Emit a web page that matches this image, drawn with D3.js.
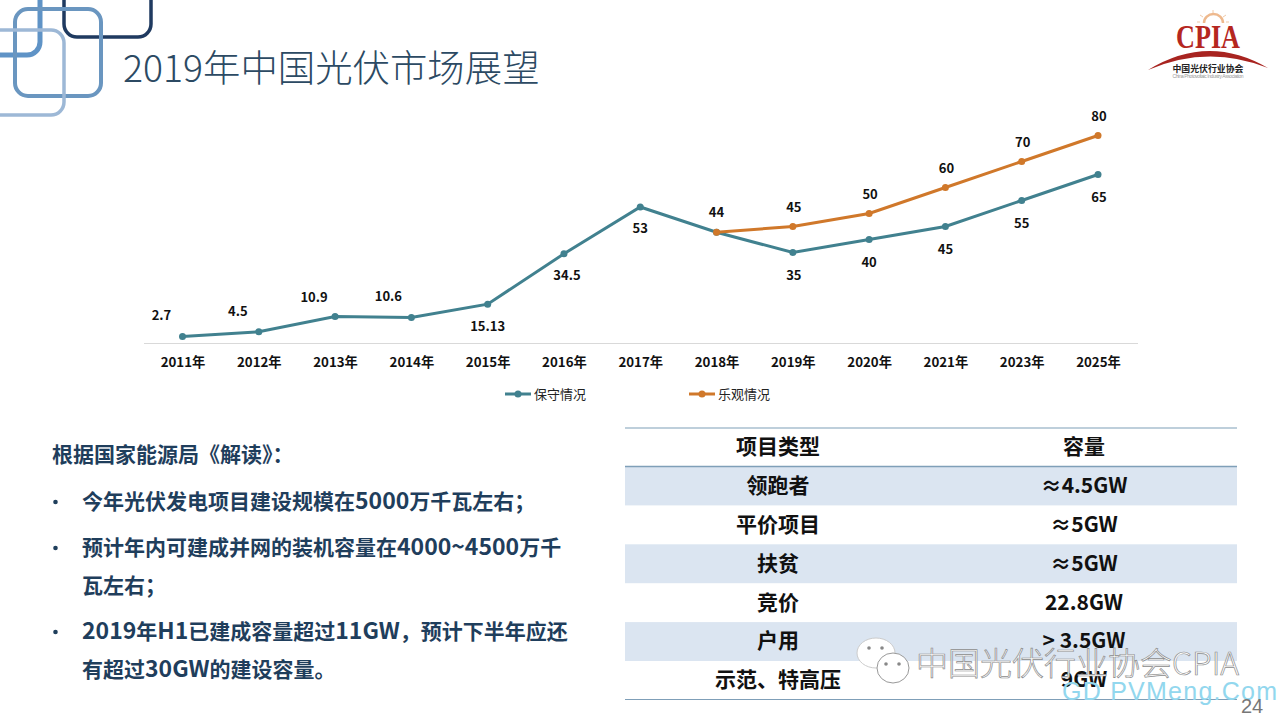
<!DOCTYPE html>
<html><head><meta charset="utf-8">
<style>html,body{margin:0;padding:0;background:#fff}svg{display:block}text{font-family:"Noto Sans CJK SC","Open Sans",sans-serif}</style>
<script src="https://cdn.jsdelivr.net/npm/d3@7"></script></head>
<body><svg id="c" width="1280" height="720"></svg>
<script>
const years=["2011年","2012年","2013年","2014年","2015年","2016年","2017年","2018年","2019年","2020年","2021年","2023年","2025年"];
const conservative=[2.7,4.5,10.4,10,15.13,34.5,52.5,42.8,35,40,45,55,65];
const conservativeLabels=["2.7","4.5","10.9","10.6","15.13","34.5","53","44","35","40","45","55","65"];
const optimistic=[null,null,null,null,null,null,null,42.8,45,50,60,70,80];
const optimisticLabels=["","","","","","","","","45","50","60","70","80"];
const seriesNames=["保守情况","乐观情况"];
const tableHead=["项目类型","容量"];
const tableTypes=["领跑者","平价项目","扶贫","竞价","户用","示范、特高压"];
const tableCaps=["≈4.5GW","≈5GW","≈5GW","22.8GW","> 3.5GW","9GW"];
const intro="根据国家能源局《解读》：";
const bullets=[["今年光伏发电项目建设规模在5000万千瓦左右；"],["预计年内可建成并网的装机容量在4000~4500万千","瓦左右；"],["2019年H1已建成容量超过11GW，预计下半年应还","有超过30GW的建设容量。"]];

const svg=d3.select("#c");
const TEAL="#41818f",OR="#d0782a",NAVY="#1f3e5c";
// decorative squares
[[-40,-60,80,115,"#5f93c6",5],[64,-50,87,87,"#1f3a60",3.5],[15,9,86,87,"#6a96c0",4],[-30,30,94,85,"#9db8d6",3.5]].forEach(r=>
 svg.append("rect").attr("x",r[0]).attr("y",r[1]).attr("width",r[2]).attr("height",r[3]).attr("rx",13).attr("fill","none").attr("stroke",r[4]).attr("stroke-width",r[5]));
svg.append("text").attr("x",123).attr("y",82).attr("font-size",37.4).attr("fill","#2c4a63").style("font-weight",300).text("2019年中国光伏市场展望");

// logo
const logo=svg.append("g");
logo.append("path").attr("d","M1204 23 a9.5 9 0 0 1 19 0").attr("fill","none").attr("stroke","#eeb98e").attr("stroke-width",2.5);
logo.append("path").attr("d","M1213 10V13 M1200 15L1203 17 M1226 15L1223 17 M1197 22H1200 M1226 22H1229").attr("stroke","#f0c9a8").attr("stroke-width",1);
logo.append("text").attr("x",1176).attr("y",48).attr("font-size",34).attr("fill","#b5271f").style("font-weight",700).style("font-family","'Liberation Serif'").attr("textLength",64).attr("lengthAdjust","spacingAndGlyphs").text("CPIA");
logo.append("path").attr("d","M1148 70 Q1208 33 1268 68 Q1208 44 1148 70Z").attr("fill","#a82420");
logo.append("text").attr("x",1208).attr("y",71.5).attr("text-anchor","middle").attr("font-size",8.9).attr("fill","#222").style("font-weight",700).text("中国光伏行业协会");
logo.append("text").attr("x",1208).attr("y",78).attr("text-anchor","middle").attr("font-size",5).attr("fill","#999").style("font-family","'Liberation Sans'").attr("textLength",71).text("China Photovoltaic Industry Association");

// chart
const x=d3.scalePoint().domain(years).range([182.5,1098]);
const y=d3.scaleLinear().domain([0,80]).range([343.5,135.5]);
const line=d3.line().defined(d=>d.v!=null).x(d=>x(d.c)).y(d=>y(d.v));
const g=svg.append("g");
const axis=d3.axisBottom(x).tickSize(0).tickPadding(14);
const ax=g.append("g").attr("transform","translate(0,344)").call(axis);
ax.select(".domain").remove();
g.append("line").attr("x1",144).attr("x2",1138).attr("y1",343.5).attr("y2",343.5).attr("stroke","#d9d9d9").attr("stroke-width",1);
ax.selectAll("text").attr("font-size",13.3).attr("fill","#111").style("font-weight",700).style("font-family","'Noto Sans CJK SC'");
const draw=(vals,col)=>{
 const d=years.map((c,i)=>({c,v:vals[i]}));
 g.append("path").datum(d).attr("d",line).attr("fill","none").attr("stroke",col).attr("stroke-width",3);
 g.selectAll(null).data(d.filter(e=>e.v!=null)).join("circle").attr("cx",e=>x(e.c)).attr("cy",e=>y(e.v)).attr("r",3.5).attr("fill",col);
};
draw(conservative,TEAL);draw(optimistic,OR);
const lab=(c,v,t,dy,dx)=>{if(!t)return;g.append("text").attr("x",x(c)+(dx||0)).attr("y",y(v)+dy).attr("text-anchor","middle").attr("font-size",13).attr("fill","#111").style("font-weight",700).text(t);};
const dyC=[-16,-16,-14,-17,27,26,26,-15,27,27,27,27,27];
const adjX={0:-21,1:-21,2:-21,3:-23,4:0,5:3,6:0,7:0,8:1,9:0,10:0,11:0,12:1};
years.forEach((c,i)=>lab(c,conservative[i],conservativeLabels[i],dyC[i],adjX[i]));
years.forEach((c,i)=>{if(optimistic[i]!=null&&optimisticLabels[i])lab(c,optimistic[i],optimisticLabels[i],-15,1);});
// legend
[[505,TEAL],[689,OR]].forEach((l,i)=>{
 g.append("line").attr("x1",l[0]).attr("x2",l[0]+26).attr("y1",394).attr("y2",394).attr("stroke",l[1]).attr("stroke-width",3);
 g.append("circle").attr("cx",l[0]+13).attr("cy",394).attr("r",3.5).attr("fill",l[1]);
 g.append("text").attr("x",l[0]+29).attr("y",399).attr("font-size",13).attr("fill","#222").text(seriesNames[i]);
});

// left text: Latin runs are set larger, as in the reference face
const tx=svg.append("g").attr("fill",NAVY).style("font-weight",700);
const rich=(px,py,t)=>{
 const el=tx.append("text").attr("x",px).attr("y",py).attr("font-size",21);
 (t.match(/[\x20-\x7e]+|[^\x20-\x7e]+/g)||[]).forEach(r=>el.append("tspan").attr("font-size",/^[\x20-\x7e]/.test(r)?23:21).text(r));
};
rich(52,462,intro);
const ys=[[509],[555,593],[639,677]];
bullets.forEach((b,i)=>{
 tx.append("circle").attr("cx",55.5).attr("cy",ys[i][0]-7).attr("r",2.3).attr("fill",NAVY);
 b.forEach((t,j)=>rich(82,ys[i][j],t));
});

// table
const tL=625,tR=1237;
const rowH=38.9;
const rowY=i=>466.5+i*rowH;
tableTypes.forEach((t,i)=>{ if(i%2==0) svg.append("rect").attr("x",tL).attr("y",rowY(i)).attr("width",tR-tL).attr("height",rowH).attr("fill","#dbe5f1"); });
[[428,1.2],[466.5,1.6],[699.5,1.2]].forEach(l=>svg.append("line").attr("x1",tL).attr("x2",tR).attr("y1",l[0]).attr("y2",l[0]).attr("stroke","#7f9fb8").attr("stroke-width",l[1]));
const cell=(xx,yy,t)=>svg.append("text").attr("x",xx).attr("y",yy).attr("text-anchor","middle").attr("font-size",21).attr("fill","#111").style("font-weight",700).text(t);
const cxA=778,cxB=1084;
cell(cxA,454,tableHead[0]);cell(cxB,454,tableHead[1]);
tableTypes.forEach((t,i)=>{cell(cxA,rowY(i)+26.3,t);cell(cxB,rowY(i)+26.3,tableCaps[i]);});

// watermark, page
const wm=svg.append("g");
wm.append("text").attr("x",916).attr("y",675).attr("font-size",32).attr("fill","#fff").attr("stroke","#8a8a8a").attr("stroke-width",.7).style("font-weight",300).text("中国光伏行业协会CPIA");
wm.append("text").attr("x",1062).attr("y",700).attr("font-size",25).attr("fill","#92d7ee").style("font-family","'Liberation Sans'").attr("textLength",215).text("GD PVMeng.Com");
wm.append("text").attr("x",1241).attr("y",713).attr("font-size",20).attr("fill","#777").style("font-family","'Liberation Sans'").text("24");
const bub=(cx,cy,rx,ry,s)=>wm.append("ellipse").attr("cx",cx).attr("cy",cy).attr("rx",rx).attr("ry",ry).attr("fill","#fff").attr("stroke",s).attr("stroke-width",1);
bub(876,653,19,15,"#ccc");bub(893,668,16,15,"#999");
[[869,648],[882,648],[886,664],[899,664]].forEach(p=>wm.append("circle").attr("cx",p[0]).attr("cy",p[1]).attr("r",1.8).attr("fill","#888"));
</script></body></html>
